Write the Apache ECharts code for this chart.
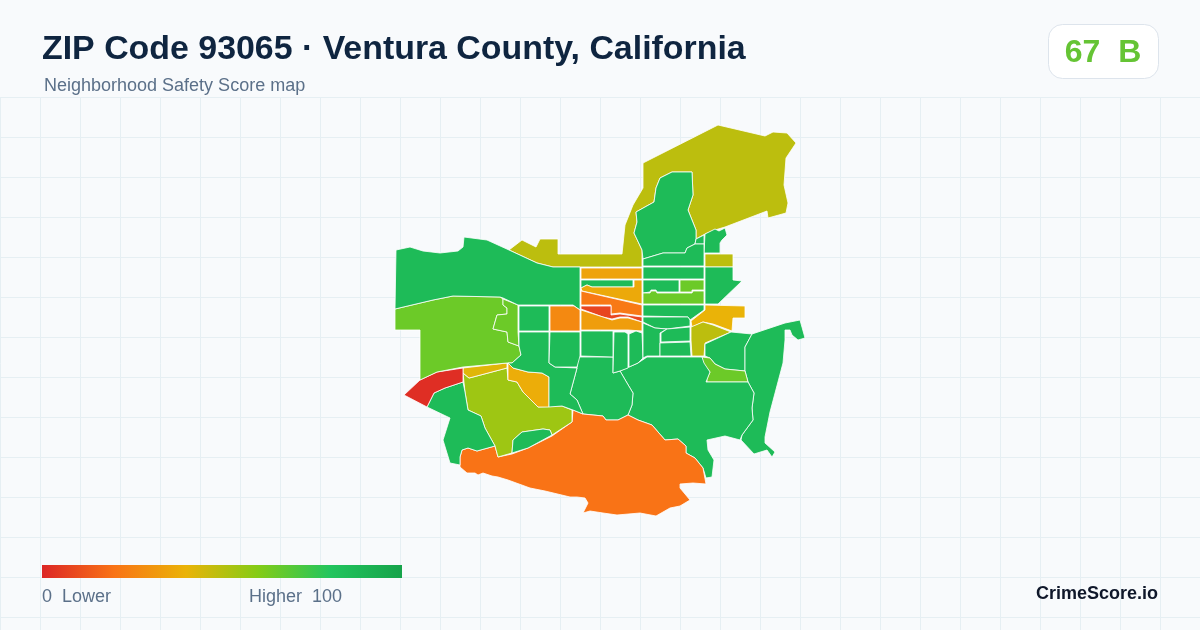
<!DOCTYPE html>
<html>
<head>
<meta charset="utf-8">
<title>ZIP Code 93065</title>
<script src="https://cdn.jsdelivr.net/npm/echarts@6/dist/echarts.min.js"></script>
<style>
html, body { margin: 0; padding: 0; background: #f8fafc; }
#main { width: 1200px; height: 630px; }
</style>
</head>
<body>
<div id="main"></div>
<script>
var titleText = "ZIP Code 93065 · Ventura County, California";
var subtitleText = "Neighborhood Safety Score map";
var scoreText = "67  B";
var brandText = "CrimeScore.io";
var lowLabel = "0  Lower";
var highLabel = "Higher  100";
var scaleColors = ["#dc2626", "#f97316", "#eab308", "#84cc16", "#22c55e", "#16a34a"];

// score
var regionScores = [
	49, 86, 86, 86, 49, 86, 86, 86, 65, 65,
	86, 86, 86, 40, 49, 86, 86, 65, 86, 86,
	20, 55, 42, 38, 86, 86, 2, 65, 65, 86,
	86, 27, 86, 86, 35, 86, 37, 22, 8, 33,
	86, 86, 86, 86, 86, 86
];

// area outlines, as [x, y] on the 1200x630 canvas
var regionOutlines = [
	[[509,250],[522,240],[536,247],[540,239],[558,239],[558,254],[622,254],[625,225],[633,205],[643,188],[643,163],[718,125],[765,136],[773,132],[787,133],[796,143],[786,158],[784,185],[788,203],[786,213],[768,218],[767,211],[725,227],[715,230],[705,234],[696,239],[696,230],[688,210],[693,195],[692,172],[672,172],[660,178],[656,188],[654,202],[636,212],[637,222],[634,233],[642,250],[642,267],[580,267],[553,267],[537,263]],
	[[672,172],[692,172],[693,195],[688,210],[696,230],[696,239],[695,244],[687,248],[685,253],[663,253],[643,259],[642,250],[634,233],[637,222],[636,212],[654,202],[656,188],[660,178]],
	[[696,239],[704,235],[704,244],[695,244]],
	[[705,234],[715,229],[719,231],[725,228],[727,235],[722,240],[720,243],[720,253],[704,253]],
	[[705,254],[733,254],[733,267],[705,267]],
	[[643,259],[663,253],[685,253],[687,248],[695,244],[704,244],[704,266],[643,266]],
	[[643,267],[704,267],[704,279],[643,279]],
	[[643,280],[679,280],[679,292],[657,292],[656,290],[651,290],[650,292],[643,293]],
	[[680,280],[704,280],[704,290],[692,290],[692,292],[680,292]],
	[[643,293],[650,293],[651,291],[656,291],[657,293],[692,293],[693,291],[704,291],[704,304],[643,304]],
	[[705,267],[733,267],[733,280],[742,281],[718,304],[705,304]],
	[[643,305],[704,305],[704,310],[690,320],[688,317],[643,316]],
	[[643,317],[688,317],[690,320],[690,326],[667,329],[655,328],[643,322]],
	[[705,305],[745,306],[745,318],[733,318],[732,331],[713,324],[703,322],[692,327],[691,321],[705,310]],
	[[691,327],[703,322],[713,325],[731,332],[705,343],[704,356],[692,356],[691,340]],
	[[705,344],[731,332],[752,334],[745,347],[745,371],[725,369],[715,364],[710,358],[705,356]],
	[[752,334],[770,328],[785,323],[800,320],[805,338],[798,340],[792,335],[790,330],[785,330],[785,340],[783,363],[770,412],[765,437],[765,443],[775,452],[772,457],[767,450],[754,454],[741,440],[742,435],[753,420],[752,408],[754,393],[748,382],[745,371],[745,347]],
	[[702,357],[710,358],[715,364],[725,369],[745,371],[748,382],[707,382],[707,379],[710,372],[703,363]],
	[[620,371],[638,363],[647,357],[702,357],[704,363],[710,372],[706,382],[748,382],[754,393],[752,408],[753,420],[742,435],[740,440],[725,436],[707,440],[708,450],[714,460],[712,477],[706,478],[703,468],[695,458],[686,453],[686,446],[678,439],[665,440],[652,425],[638,420],[628,415],[632,405],[633,393],[627,383]],
	[[578,357],[613,357],[613,373],[620,371],[627,383],[633,393],[632,405],[628,415],[618,420],[606,420],[603,416],[583,414],[577,400],[570,394],[577,368]],
	[[460,457],[462,450],[468,448],[477,451],[495,446],[498,457],[512,454],[528,448],[552,436],[572,422],[573,410],[583,414],[603,416],[606,420],[618,420],[628,415],[638,420],[652,425],[665,440],[678,439],[686,446],[686,453],[695,458],[703,468],[706,484],[693,483],[680,484],[680,488],[690,500],[680,506],[670,508],[656,516],[640,513],[617,515],[603,513],[590,511],[583,513],[588,503],[585,498],[577,497],[570,497],[545,491],[530,488],[508,480],[498,477],[492,476],[483,473],[478,475],[475,473],[467,473],[460,467]],
	[[463,373],[469,378],[473,377],[507,368],[508,380],[517,382],[523,392],[538,407],[562,406],[572,410],[572,422],[552,435],[550,430],[543,429],[522,432],[513,440],[512,453],[498,457],[495,446],[485,428],[481,416],[468,410],[465,392]],
	[[463,368],[507,363],[507,368],[473,377],[469,378],[463,373]],
	[[508,363],[513,368],[528,372],[542,373],[549,377],[549,407],[538,407],[523,392],[517,382],[508,380]],
	[[513,440],[522,432],[543,429],[550,430],[552,435],[528,448],[512,453]],
	[[463,382],[445,388],[434,393],[427,407],[450,418],[443,440],[450,463],[460,465],[460,457],[462,450],[468,448],[477,451],[495,446],[485,428],[481,416],[468,410],[465,392]],
	[[420,380],[437,372],[463,368],[463,382],[445,388],[434,393],[427,407],[404,395]],
	[[395,309],[433,300],[453,296],[500,297],[503,299],[503,305],[507,308],[507,314],[497,315],[493,329],[507,332],[508,342],[519,346],[521,355],[512,363],[507,363],[463,367],[437,372],[420,380],[420,330],[395,330]],
	[[503,299],[518,305],[518,332],[519,346],[508,342],[507,332],[493,329],[497,315],[507,314],[507,308],[503,305]],
	[[396,250],[410,247],[423,251],[440,253],[458,251],[463,247],[464,237],[487,240],[509,250],[537,263],[553,267],[580,267],[580,310],[573,305],[518,305],[503,298],[500,297],[453,296],[433,300],[395,309]],
	[[519,306],[549,306],[549,331],[519,331]],
	[[550,306],[574,306],[580,310],[580,331],[550,331]],
	[[519,332],[549,332],[549,363],[555,367],[577,368],[570,394],[577,400],[583,414],[573,410],[562,406],[549,407],[549,377],[542,373],[528,372],[513,368],[508,363],[512,363],[521,355],[519,346]],
	[[550,332],[580,332],[580,356],[577,367],[555,367],[549,363]],
	[[581,268],[642,268],[642,279],[581,279]],
	[[581,280],[633,280],[633,287],[592,287],[587,285],[581,288]],
	[[634,280],[642,280],[642,304],[582,291],[581,288],[587,285],[592,287],[634,287]],
	[[581,291],[642,305],[642,316],[627,314],[620,313],[611,314],[611,305],[581,305]],
	[[581,306],[611,306],[611,315],[620,314],[627,315],[642,317],[642,322],[628,317],[620,317],[612,319],[603,317],[581,309]],
	[[581,310],[603,317],[612,320],[620,318],[628,318],[642,322],[642,331],[628,330],[581,330]],
	[[581,331],[613,331],[613,357],[581,356]],
	[[614,332],[625,332],[628,334],[628,368],[620,371],[613,373]],
	[[629,334],[636,331],[642,333],[643,358],[638,363],[629,367]],
	[[643,323],[655,328],[667,329],[660,333],[660,356],[647,356],[643,358]],
	[[661,333],[667,329],[690,327],[690,341],[661,342]],
	[[660,343],[690,342],[691,356],[660,356]]
];

var features = [];
var regionData = [];
for (var i = 0; i < regionOutlines.length; i++) {
	var ring = [];
	for (var j = 0; j < regionOutlines[i].length; j++) {
		// geo y points up, canvas y points down
		ring.push([regionOutlines[i][j][0], -regionOutlines[i][j][1]]);
	}
	ring.push(ring[0]);
	var name = "area" + i;
	features.push({
		type: "Feature",
		properties: { name: name },
		geometry: { type: "Polygon", coordinates: [ring] }
	});
	regionData.push({ name: name, value: regionScores[i] });
}
echarts.registerMap("zip93065", { type: "FeatureCollection", features: features });

// the legend bar has square ends, visualMap's own bar is rounded
var legendStops = [];
for (var k = 0; k < scaleColors.length; k++) {
	legendStops.push({ offset: k / (scaleColors.length - 1), color: scaleColors[k] });
}

var chart = echarts.init(document.getElementById("main"));
var option = {
	backgroundColor: "#f8fafc",
	animation: false,
	title: [
		{
			text: titleText, left: 42, top: 33, padding: 0,
			textStyle: { fontFamily: "Liberation Sans", fontSize: 33.9, fontWeight: "bold", color: "#0f2540" }
		},
		{
			text: subtitleText, left: 44, top: 77, padding: 0,
			textStyle: { fontFamily: "Liberation Sans", fontSize: 18, fontWeight: "normal", color: "#5b7089" }
		}
	],
	// background squares
	grid: { left: 0, right: 0, top: 97, bottom: 0, show: false },
	xAxis: {
		type: "value", min: 0, max: 1200, interval: 40,
		axisLine: { show: false }, axisTick: { show: false }, axisLabel: { show: false },
		splitLine: { lineStyle: { color: "#e6eff3", width: 1 } }
	},
	yAxis: {
		type: "value", min: 0, max: 533, interval: 40, inverse: true,
		axisLine: { show: false }, axisTick: { show: false }, axisLabel: { show: false },
		splitLine: { lineStyle: { color: "#e6eff3", width: 1 } }
	},
	visualMap: {
		show: false,
		type: "continuous", min: 0, max: 100,
		seriesIndex: 0,
		inRange: { color: scaleColors }
	},
	series: [
		{
			type: "map",
			map: "zip93065",
			roam: false,
			silent: true,
			aspectScale: 1,
			boundingCoords: [[0, 0], [1200, -630]],
			left: 0, right: 0, top: 0, bottom: 0,
			label: { show: false },
			itemStyle: { borderColor: "#ffffff", borderWidth: 0.8 },
			data: regionData
		}
	],
	graphic: [
		{
			type: "rect", z: 10,
			shape: { x: 42, y: 565, width: 360, height: 13 },
			style: {
				fill: new echarts.graphic.LinearGradient(0, 0, 1, 0, legendStops)
			}
		},
		{
			type: "rect", z: 10,
			shape: { x: 1048.5, y: 24.5, width: 110, height: 54, r: 14 },
			style: { fill: "#ffffff", stroke: "#dde4ec", lineWidth: 1 }
		},
		{
			type: "text", z: 11, x: 1103, y: 53,
			style: {
				text: scoreText, fill: "#65c434", align: "center", verticalAlign: "middle",
				font: "bold 32px 'Liberation Sans'"
			}
		},
		{
			type: "text", z: 11, x: 42, y: 597,
			style: {
				text: lowLabel, fill: "#5b7089", align: "left", verticalAlign: "middle",
				font: "18px 'Liberation Sans'"
			}
		},
		{
			type: "text", z: 11, x: 249, y: 597,
			style: {
				text: highLabel, fill: "#5b7089", align: "left", verticalAlign: "middle",
				font: "18px 'Liberation Sans'"
			}
		},
		{
			type: "text", z: 11, x: 1158, y: 594,
			style: {
				text: brandText, fill: "#0f172a", align: "right", verticalAlign: "middle",
				font: "bold 18px 'Liberation Sans'"
			}
		}
	]
};
chart.setOption(option);
</script>
</body>
</html>
